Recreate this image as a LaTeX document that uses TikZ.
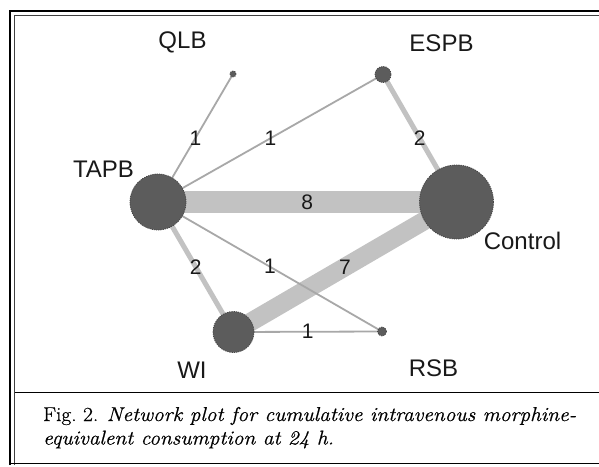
\documentclass[tikz,border=0pt]{standalone}
\usepackage{fontspec}
\usepackage{graphicx}
\usetikzlibrary{backgrounds}
\newfontfamily\labelfont{Liberation Sans}
\newfontfamily\capfont{Latin Modern Roman}[FakeBold=0.6]
\definecolor{nodegray}{RGB}{92,92,92}
\definecolor{nodeedge}{RGB}{70,70,70}
\definecolor{bandgray}{RGB}{194,194,194}
\definecolor{thingray}{RGB}{168,168,168}
\newsavebox{\capboxA}
\newsavebox{\capboxB}
\tikzset{
  trt/.style={circle, fill=nodegray, draw=nodeedge, line width=0.8pt,
              dash pattern=on 1.2pt off 1pt, minimum size=#1, inner sep=0pt},
  band/.style={draw=bandgray, line width=#1},
  thin edge/.style={draw=thingray, line width=1.8pt},
  elab/.style={font=\labelfont\fontsize{21}{21}\selectfont, inner sep=0pt, text=black!90},
  tlab/.style={font=\labelfont\fontsize{24}{24}\selectfont, inner sep=0pt, text=black!90},
  frame thick/.style={line width=2.4pt, black},
  frame thin/.style={line width=1pt, black!75},
  rule/.style={line width=1.2pt, black},
}
\begin{document}
\sbox{\capboxA}{\capfont\fontsize{20}{24}\selectfont Fig.~2. \textit{Network plot for cumulative intravenous morphine-}}%
\sbox{\capboxB}{\capfont\fontsize{20}{24}\selectfont \textit{equivalent consumption at 24 h.}}%
\pgfmathsetmacro{\capsx}{533/\the\wd\capboxA}%
\begin{tikzpicture}[x=1pt, y=-1pt]
\useasboundingbox (0,0) rectangle (599,466);

% treatment nodes
\node[trt=56pt] (TAPB) at (158,202) {};
\node[trt=74pt] (Control) at (456.5,202) {};
\node[trt=41pt] (WI) at (233.5,332) {};
\node[trt=16pt] (ESPB) at (383,74.5) {};
\node[trt=6pt] (QLB) at (233,74) {};
\node[trt=9pt] (RSB) at (382,331.5) {};

% connectors
\begin{scope}[on background layer]
  \fill[white] (0,0) rectangle (599,466);
  \draw[band=22.5pt] (TAPB.center) -- node[elab]{8} (Control.center);
  \draw[band=18.5pt] (WI.center) -- node[elab]{7} (Control.center);
  \draw[band=5pt] (ESPB.center) -- node[elab]{2} (Control.center);
  \draw[band=5pt] (TAPB.center) -- node[elab]{2} (WI.center);
  \draw[thin edge] (TAPB.center) -- node[elab]{1} (QLB.center);
  \draw[thin edge] (TAPB.center) -- node[elab]{1} (ESPB.center);
  \draw[thin edge] (TAPB.center) -- node[elab]{1} (RSB.center);
  \draw[thin edge] (WI.center) -- node[elab]{1} (RSB.center);
\end{scope}

% frame
\draw[frame thick] (10.2,465) -- (10.2,11.2) -- (599,11.2);
\draw[frame thin] (14.6,465) -- (14.6,15.2) -- (599,15.2);
\draw[rule] (14.6,392.2) -- (599,392.2);
\draw[rule] (10.2,463.4) -- (599,463.4);

% treatment labels
\node[tlab] (lQLB) at (182.5,42.5) {QLB};
\node[tlab] (lESPB) at (441.5,43.5) {ESPB};
\node[tlab] (lTAPB) at (103.5,169.5) {TAPB};
\node[tlab] (lControl) at (522.5,240.5) {Control};
\node[tlab] (lWI) at (192,370) {WI};
\node[tlab] (lRSB) at (433.5,368.5) {RSB};

% caption
\node[anchor=base west, inner sep=0pt] (cap1) at (43,421) {\scalebox{\capsx}[1]{\usebox{\capboxA}}};
\node[anchor=base west, inner sep=0pt] (cap2) at (43,444.5) {\scalebox{\capsx}[1]{\usebox{\capboxB}}};
\end{tikzpicture}
\end{document}
